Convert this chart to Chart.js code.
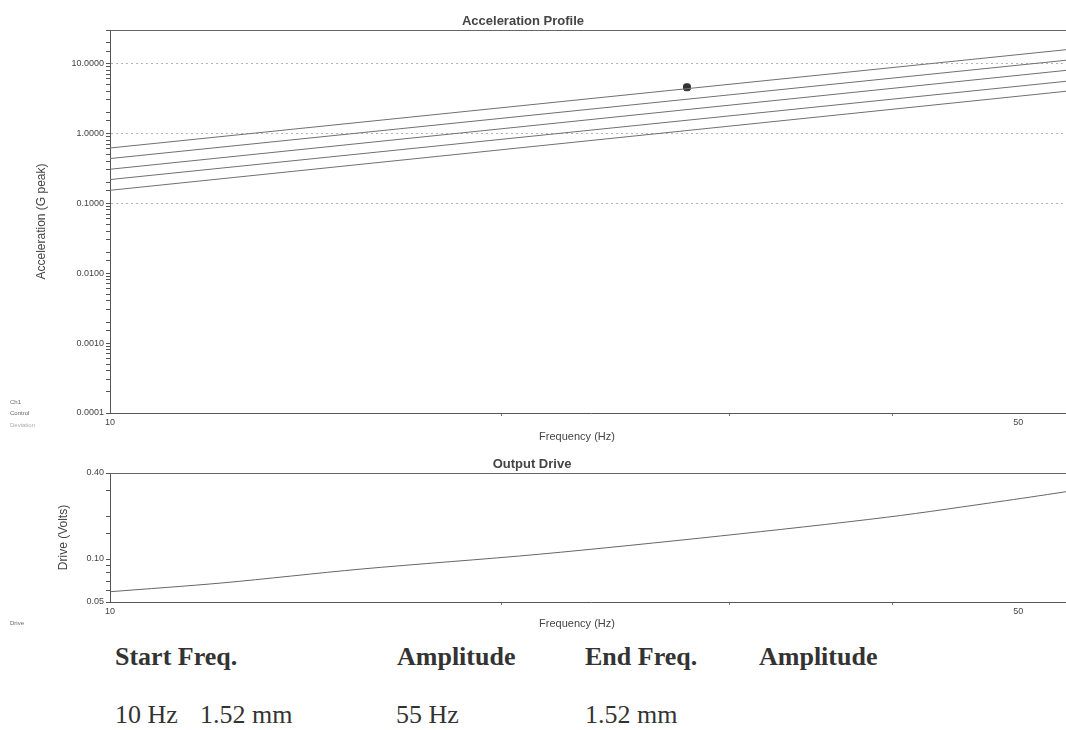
<!DOCTYPE html>
<html>
<head>
<meta charset="utf-8">
<title>Acceleration Profile</title>
<script src="https://cdn.jsdelivr.net/npm/chart.js@4.4.1/dist/chart.umd.min.js"></script>
<style>
  html, body { margin: 0; padding: 0; background: #fff; }
  body { width: 1066px; height: 730px; overflow: hidden; position: relative;
         font-family: 'Liberation Sans', Arial, sans-serif; color: #444; }
  canvas { position: absolute; left: 0; }
  .lbl { position: absolute; white-space: nowrap; line-height: 1; }
  .ttl { font-weight: bold; font-size: 13px; transform: translateX(-50%); }
  .axt { font-size: 11px; transform: translateX(-50%); }
  .tiny { font-size: 6px; color: #666; left: 10px; }
  .sheet { font-family: 'Liberation Serif', 'Times New Roman', serif; font-size: 26px; color: #333; }
  .sheet.b { font-weight: bold; }
</style>
</head>
<body>
<canvas id="accChart" width="1080" height="440" style="top:0"></canvas>
<canvas id="driveChart" width="1080" height="180" style="top:445px"></canvas>

<div class="lbl ttl" style="left:523px; top:14px">Acceleration Profile</div>
<div class="lbl axt" style="left:577px; top:431px">Frequency (Hz)</div>
<div class="lbl ttl" style="left:532px; top:457px">Output Drive</div>
<div class="lbl axt" style="left:577px; top:618px">Frequency (Hz)</div>

<div class="lbl tiny" style="top:399px">Ch1</div>
<div class="lbl tiny" style="top:410px">Control</div>
<div class="lbl tiny" style="top:422px; color:#aaa">Deviation</div>
<div class="lbl tiny" style="top:620px">Drive</div>

<div class="lbl sheet b" style="left:115px; top:644px">Start Freq.</div>
<div class="lbl sheet b" style="left:397px; top:644px">Amplitude</div>
<div class="lbl sheet b" style="left:585px; top:644px">End Freq.</div>
<div class="lbl sheet b" style="left:759px; top:644px">Amplitude</div>
<div class="lbl sheet" style="left:115px; top:702px">10 Hz</div>
<div class="lbl sheet" style="left:200px; top:702px">1.52 mm</div>
<div class="lbl sheet" style="left:396px; top:702px">55 Hz</div>
<div class="lbl sheet" style="left:585px; top:702px">1.52 mm</div>

<script>
// acceleration profile: reference line and alarm / abort limits (G peak)
const accFreq = [10, 55];
const abortHigh = [0.616, 16.0];
const alarmHigh = [0.435, 11.3];
const reference = [0.306, 8.1];
const alarmLow = [0.218, 5.65];
const abortLow = [0.153, 4.07];

// ink spot on the top line
const spotFreq = [27.8];
const spotAcc = [4.55];

// output drive (Volts)
const driveFreq = [10, 12.2, 15.6, 21.4, 29.5, 39.6, 48.9, 55];
const driveVolts = [0.059, 0.068, 0.085, 0.108, 0.145, 0.196, 0.256, 0.300];

// ticks and tick labels
const freqTickMarks = [20, 30, 40];
const freqTickLabels = [10, 50];
const accTickLabels = [10, 1, 0.1, 0.01, 0.001, 0.0001];
const driveTickLabels = [0.4, 0.1, 0.05];

Chart.defaults.font.family = "'Liberation Sans', Arial, sans-serif";
Chart.defaults.color = '#444';

const near = (v, list) => list.some(t => Math.abs(v - t) / t < 1e-6);
const toPoints = (xs, ys) => xs.map((x, i) => ({ x: x, y: ys[i] }));

// line along the top of the plot area
const topFrame = {
    id: 'topFrame',
    afterDraw(chart) {
        const { ctx, chartArea } = chart;
        ctx.save();
        ctx.strokeStyle = '#666';
        ctx.lineWidth = 1;
        ctx.beginPath();
        ctx.moveTo(chartArea.left, chartArea.top + 0.5);
        ctx.lineTo(chartArea.right, chartArea.top + 0.5);
        ctx.stroke();
        ctx.restore();
    }
};

function freqAxis(height) {
    return {
        type: 'logarithmic',
        min: 10,
        max: 55,
        afterFit: s => { s.height = height; },
        border: { color: '#555', width: 1 },
        grid: {
            drawOnChartArea: false,
            tickLength: 3,
            tickColor: ctx => (ctx.tick && near(ctx.tick.value, freqTickMarks)) ? '#777' : 'transparent'
        },
        ticks: {
            autoSkip: false,
            maxRotation: 0,
            padding: 1,
            font: { size: 9 },
            callback: v => near(v, freqTickLabels) ? String(Math.round(v)) : ''
        }
    };
}

function lineSet(label, ys) {
    return {
        label: label,
        data: toPoints(accFreq, ys),
        borderColor: '#707070',
        borderWidth: 1,
        pointRadius: 0,
        tension: 0
    };
}

new Chart(document.getElementById('accChart'), {
    type: 'line',
    data: {
        datasets: [
            lineSet('Abort high', abortHigh),
            lineSet('Alarm high', alarmHigh),
            lineSet('Reference', reference),
            lineSet('Alarm low', alarmLow),
            lineSet('Abort low', abortLow),
            {
                label: 'spot',
                data: toPoints(spotFreq, spotAcc),
                showLine: false,
                pointStyle: 'rectRounded',
                pointRadius: 4,
                pointBackgroundColor: '#333',
                pointBorderColor: '#333'
            }
        ]
    },
    options: {
        responsive: false,
        animation: false,
        layout: { padding: { top: 30, right: 8, left: 0, bottom: 0 } },
        plugins: { legend: { display: false }, tooltip: { enabled: false } },
        scales: {
            x: freqAxis(27),
            y: {
                type: 'logarithmic',
                min: 0.0001,
                max: 30,
                afterFit: s => { s.width = 110; },
                border: { color: '#555', width: 1, dash: [2, 3] },
                grid: {
                    tickLength: 4,
                    tickColor: '#555',
                    color: ctx => {
                        const v = ctx.tick ? ctx.tick.value : 0;
                        return near(v, [10, 1, 0.1]) ? '#b5b5b5' : 'transparent';
                    }
                },
                ticks: {
                    autoSkip: false,
                    padding: 2,
                    font: { size: 9 },
                    callback: v => near(v, accTickLabels) ? v.toFixed(4) : ''
                },
                title: {
                    display: true,
                    text: 'Acceleration (G peak)',
                    font: { size: 12 },
                    padding: { top: 34, bottom: 0 }
                }
            }
        }
    },
    plugins: [topFrame]
});

new Chart(document.getElementById('driveChart'), {
    type: 'line',
    data: {
        datasets: [{
            label: 'Drive',
            data: toPoints(driveFreq, driveVolts),
            borderColor: '#666',
            borderWidth: 1,
            pointRadius: 0,
            tension: 0.3
        }]
    },
    options: {
        responsive: false,
        animation: false,
        layout: { padding: { top: 28, right: 8, left: 0, bottom: 0 } },
        plugins: { legend: { display: false }, tooltip: { enabled: false } },
        scales: {
            x: freqAxis(23),
            y: {
                type: 'logarithmic',
                min: 0.05,
                max: 0.4,
                afterFit: s => { s.width = 110; },
                border: { color: '#555', width: 1 },
                grid: { drawOnChartArea: false, tickLength: 4, color: '#555' },
                ticks: {
                    autoSkip: false,
                    padding: 2,
                    font: { size: 9 },
                    callback: v => near(v, driveTickLabels) ? v.toFixed(2) : ''
                },
                title: {
                    display: true,
                    text: 'Drive (Volts)',
                    font: { size: 12 },
                    padding: { top: 56, bottom: 0 }
                }
            }
        }
    },
    plugins: [topFrame]
});
</script>
</body>
</html>
